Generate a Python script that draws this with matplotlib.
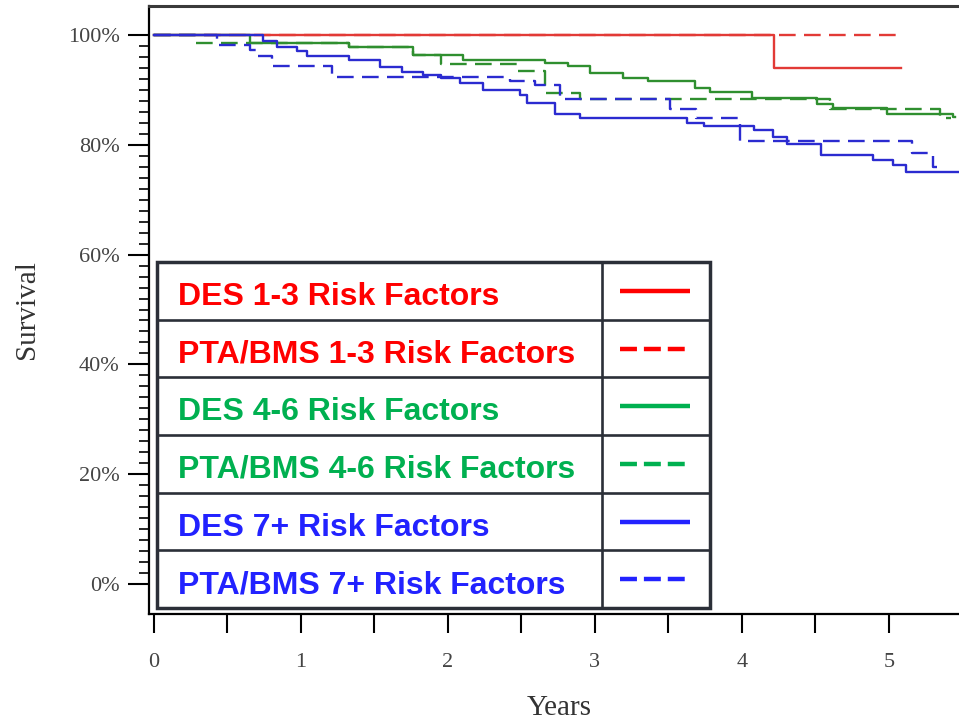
import matplotlib
matplotlib.use("Agg")
import matplotlib.pyplot as plt
from matplotlib.ticker import MultipleLocator, FixedLocator, FuncFormatter
from matplotlib.patches import Rectangle

plt.rcParams['lines.scale_dashes'] = False

# Kaplan-Meier step curves (years, survival %)
des13_t = [0, 4.22, 5.08]
des13_s = [100, 94.0, 94.0]

pta13_t = [0, 5.10]
pta13_s = [100, 100]

des46_t = [0, 0.65, 1.33, 1.76, 2.10, 2.66, 2.82, 2.97, 3.19, 3.36, 3.68, 3.78, 4.07, 4.51, 4.62, 4.99, 5.44, 5.45]
des46_s = [100, 98.6, 97.8, 96.4, 95.5, 94.9, 94.4, 93.0, 92.2, 91.6, 90.3, 89.7, 88.5, 87.4, 86.7, 85.7, 85.1, 85.1]

pta46_t = [0, 0.28, 1.33, 1.76, 1.95, 2.47, 2.66, 2.90, 4.60, 5.35, 5.42]
pta46_s = [100, 98.6, 97.8, 96.4, 94.7, 93.5, 89.5, 88.3, 86.5, 84.9, 84.9]

des7_t = [0, 0.74, 0.84, 0.97, 1.04, 1.33, 1.54, 1.69, 1.83, 1.95, 2.08, 2.24, 2.49, 2.54, 2.73, 2.90,
          3.63, 3.74, 4.08, 4.21, 4.31, 4.54, 4.89, 5.03, 5.12, 5.60]
des7_s = [100, 98.9, 97.9, 97.0, 96.1, 95.5, 94.2, 93.3, 92.7, 92.2, 91.3, 90.0, 89.1, 87.6, 85.7, 84.8,
          84.0, 83.4, 82.7, 81.4, 80.2, 78.1, 77.2, 76.3, 75.0, 75.0]

pta7_t = [0, 0.43, 0.65, 0.70, 0.80, 1.21, 2.42, 2.59, 2.76, 3.51, 3.69, 3.99, 5.16, 5.30, 5.33]
pta7_s = [100, 98.1, 97.3, 96.1, 94.4, 92.4, 91.6, 90.9, 88.3, 86.6, 84.8, 80.7, 78.5, 76.0, 76.0]

labels = ["DES 1-3 Risk Factors", "PTA/BMS 1-3 Risk Factors",
          "DES 4-6 Risk Factors", "PTA/BMS 4-6 Risk Factors",
          "DES 7+ Risk Factors", "PTA/BMS 7+ Risk Factors"]

W, H = 959, 722
fig = plt.figure(figsize=(W / 100, H / 100), dpi=100)
ax = fig.add_axes([149 / W, (H - 614) / H, 828 / W, 608 / H])

red, green, blue = "#e23a36", "#2f8f2f", "#2b2bd0"
dash = (12, 6)
curves = [(des13_t, des13_s, red, None), (pta13_t, pta13_s, red, dash),
          (des46_t, des46_s, green, None), (pta46_t, pta46_s, green, dash),
          (des7_t, des7_s, blue, None), (pta7_t, pta7_s, blue, dash)]
for t, s, c, d in curves:
    line, = ax.plot(t, s, drawstyle="steps-post", color=c, lw=1.7)
    if d:
        line.set_dashes(d)

ax.set_xlim(-5 / 147, 5.6)
ax.set_ylim(-5.46, 105.28)

serif = "Liberation Serif"
ax.xaxis.set_major_locator(MultipleLocator(0.5))
ax.xaxis.set_major_formatter(FuncFormatter(
    lambda v, p: str(int(round(v))) if abs(v - round(v)) < 1e-6 else ""))
ax.yaxis.set_major_locator(MultipleLocator(20))
ax.yaxis.set_minor_locator(FixedLocator(range(0, 101, 2)))
ax.yaxis.set_major_formatter(FuncFormatter(lambda v, p: f"{int(round(v))}%"))

ax.tick_params(axis="x", which="major", direction="out", length=14, width=1.5, pad=14,
               labelsize=16, labelcolor="#444444")
ax.tick_params(axis="y", which="major", direction="out", length=15, width=1.5, pad=6,
               labelsize=16, labelcolor="#444444")
ax.tick_params(axis="y", which="minor", direction="out", length=7, width=1.2)
for lab in ax.get_xticklabels() + ax.get_yticklabels():
    lab.set_family(serif)

ax.spines["right"].set_visible(False)
ax.spines["top"].set_color("#3a3a3a")
ax.spines["top"].set_linewidth(2.2)
ax.spines["left"].set_linewidth(1.6)
ax.spines["bottom"].set_linewidth(1.6)

fig.text(27 / W, 1 - 310 / H, "Survival", rotation=90, fontsize=21, family=serif,
         color="#333333", ha="center", va="center")
fig.text(559 / W, 1 - 708 / H, "Years", fontsize=21, family=serif,
         color="#333333", ha="center", va="center")

# legend drawn as a table box
lax = fig.add_axes([157 / W, (H - 608) / H, 553 / W, 346 / H])
lax.set_xlim(0, 553)
lax.set_ylim(346, 0)
lax.axis("off")
lax.add_patch(Rectangle((0, 0), 553, 346, facecolor="white", edgecolor="none"))
border = "#2b2f38"
row_h = 346 / 6
for i in range(1, 6):
    lax.plot([0, 553], [i * row_h] * 2, color=border, lw=1.9, clip_on=False)
lax.plot([445, 445], [0, 346], color=border, lw=1.9, clip_on=False)
lax.add_patch(Rectangle((0, 0), 553, 346, facecolor="none", edgecolor=border, lw=2.5, clip_on=False))

leg_colors = ["#ff0000", "#ff0000", "#00b050", "#00b050", "#2222ff", "#2222ff"]
for i, (lab, c) in enumerate(zip(labels, leg_colors)):
    lax.text(21, i * row_h + 43, lab, color=c, fontsize=23, fontweight="bold",
             family="Liberation Sans", va="baseline", ha="left")
    yc = i * row_h + row_h / 2
    ln, = lax.plot([463, 533], [yc, yc], color=c, lw=3.2, solid_capstyle="butt")
    if i % 2 == 1:
        ln.set_dashes((12.2, 5))
        ln.set_dash_capstyle("butt")

fig.savefig("out.png", dpi=100)
